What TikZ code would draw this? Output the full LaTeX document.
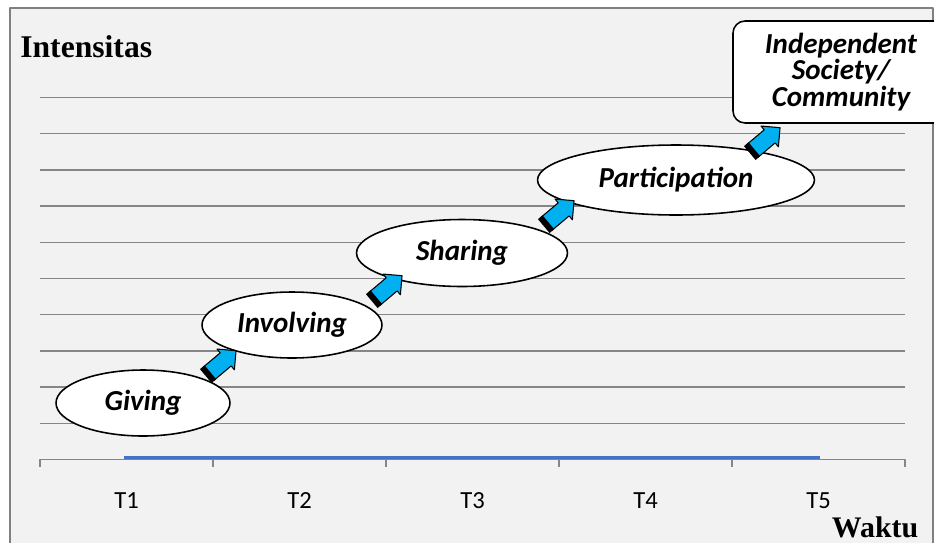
\documentclass[tikz,border=0pt]{standalone}
\usepackage{fontspec}
\setmainfont{Liberation Serif}
\newfontfamily\calibri{Carlito}
\usepackage{tikz}
\usetikzlibrary{shapes.geometric,shapes.arrows}

\definecolor{plotbg}{RGB}{242,242,242}
\definecolor{gridgray}{RGB}{134,134,134}
\definecolor{arrowblue}{RGB}{0,176,240}
\definecolor{lineblue}{RGB}{68,114,196}

\tikzset{
  stage/.style={ellipse, draw=black, line width=0.9pt, fill=white, inner sep=0pt,
    font=\calibri\bfseries\itshape\fontsize{16.5}{19}\selectfont},
  uparrow/.style={single arrow, draw=black, fill=arrowblue, line width=0.6pt,
    inner xsep=0pt, inner ysep=0.16cm, minimum height=0.72cm,
    single arrow head extend=0.1cm, rotate=40},
  gridline/.style={gridgray, line width=0.8pt},
  ticklabel/.style={font=\calibri\fontsize{14}{16}\selectfont},
  axistitle/.style={font=\bfseries\fontsize{17}{20}\selectfont, inner sep=0pt},
}

\begin{document}
\begin{tikzpicture}[x=0.02cm,y=-0.02cm,join=round] % stages growing in time
        \useasboundingbox (0,0) rectangle (934,542);
        \clip (0,0) rectangle (934,542);
        \filldraw[fill=plotbg,draw=gray,line width=1.2pt](10,8) rectangle (933,560);
        % grid and axis
        \foreach \i in {1,...,10}
                \draw[gridline] (40,{459.5-36.2*\i}) -- (905,{459.5-36.2*\i});
        \draw[gridline] (40,467) -- (40,459.5) -- (905,459.5) -- (905,467);
        \foreach \x in {213,386,559,732}
                \draw[gridline] (\x,459.5) -- (\x,467);
        \draw[lineblue,line width=1.7pt] (124,457.5) -- (820,457.5);
        \foreach \k in {1,...,5}
                \node[ticklabel] (t\k) at ({126.5+173*(\k-1)},501) {T\k};
        \node[axistitle,anchor=west] (yname) at (20,47) {\fontsize{18}{20}\selectfont Intensitas};
        \node[axistitle] (xname) at (875,527) {Waktu};
        % stages
        \node[stage,minimum width=3.48cm,minimum height=1.32cm] (giving) at (143,403) {Giving};
        \node[stage,minimum width=3.6cm,minimum height=1.32cm] (involving) at (292,325) {Involving};
        \node[stage,minimum width=4.22cm,minimum height=1.34cm] (sharing) at (462,253) {Sharing};
        \node[stage,minimum width=5.54cm,minimum height=1.4cm] (participation) at (676,180) {Participation};
        \node[draw=black,line width=0.9pt,fill=white,rounded corners=0.24cm,align=center,
                minimum width=4.32cm,minimum height=2.04cm,
                font=\calibri\bfseries\itshape\fontsize{16.5}{13.7}\selectfont] (society) at (841,72)
                {Independent\\Society/\\Community};
        % arrows between stages
        \node[uparrow] (a1) at (219,365) {};
        \node[uparrow] (a2) at (385,290) {};
        \node[uparrow] (a3) at (557,215) {};
        \node[uparrow] (a4) at (763,142) {};
        \foreach \a in {a1,a2,a3,a4}
                \draw[black,line width=3.4pt] (\a.before tail) -- (\a.after tail);
\end{tikzpicture}
\end{document}
